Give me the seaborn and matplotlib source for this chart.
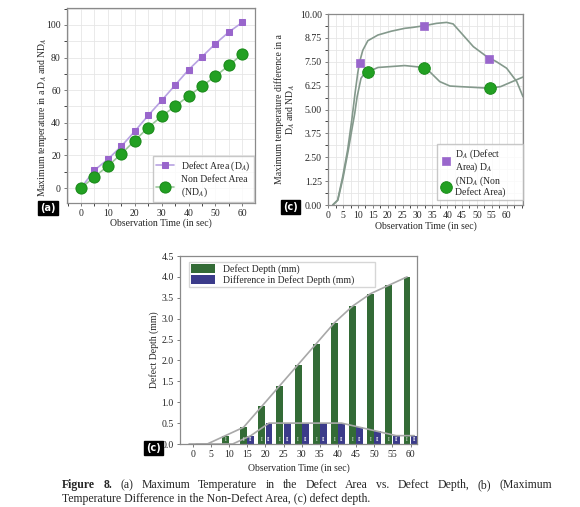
import numpy as np
import pandas as pd
import seaborn as sns
import matplotlib.pyplot as plt
from matplotlib.ticker import MultipleLocator, FixedLocator, FormatStrFormatter

# ---- data: panel (a) ----
time_a = [0, 5, 10, 15, 20, 25, 30, 35, 40, 45, 50, 55, 60]
defect_temp = [0, 10.9, 17.6, 25.6, 34.8, 44.5, 53.7, 63.1, 72.5, 80.5, 88.5, 95.7, 101.6]
non_defect_temp = [0, 6.8, 13.5, 20.9, 29.1, 37.1, 44.0, 50.2, 56.4, 62.5, 68.6, 75.2, 82.2]

# ---- data: panel (b) ----
da_curve_t = [1.5, 3.15, 4.84, 6.5, 7.9, 9.0, 9.9, 10.5, 11.6, 13.3, 16.7, 21.2, 25.7, 28.5,
              32.4, 36.4, 39.8, 42, 44.8, 48.8, 53.3, 56.6, 60, 63.4, 65.5]
da_curve_v = [0.0, 0.26, 1.48, 2.88, 4.45, 5.85, 6.9, 7.47, 8.1, 8.6, 8.9, 9.1, 9.25, 9.3,
              9.39, 9.51, 9.56, 9.48, 8.99, 8.29, 7.77, 7.5, 7.16, 6.46, 5.67]
nd_curve_t = [1.5, 3.2, 5.0, 6.7, 8.1, 8.9, 9.7, 11.0, 12.4, 13.5, 16.7, 25.7, 32.2, 34.1,
              37.5, 40.9, 44, 50, 54.4, 58, 61, 65.5]
nd_curve_v = [0.0, 0.25, 1.45, 2.85, 4.1, 4.8, 5.67, 6.63, 6.95, 6.98, 7.2, 7.3, 7.2, 6.98,
              6.46, 6.23, 6.2, 6.15, 6.11, 6.2, 6.4, 6.7]
da_mark_t = [10.5, 32.2, 54.2]
da_mark_v = [7.45, 9.39, 7.64]
nd_mark_t = [13.5, 32.2, 54.4]
nd_mark_v = [6.98, 7.19, 6.11]

# ---- data: panel (c) ----
time_c = ["0", "5", "10", "15", "20", "25", "30", "35", "40", "45", "50", "55", "60"]
depth = [0, 0, 0.2, 0.4, 0.9, 1.4, 1.9, 2.4, 2.9, 3.3, 3.6, 3.8, 4.0]
depth_diff = [0, 0, 0, 0.2, 0.5, 0.5, 0.5, 0.5, 0.5, 0.4, 0.3, 0.2, 0.2]

sns.set_style("ticks")
plt.rcParams["font.family"] = ["Liberation Serif", "DejaVu Serif"]
plt.rcParams["mathtext.fontset"] = "stix"
plt.rcParams["font.size"] = 7

fig = plt.figure(figsize=(5.8, 5.07), dpi=100)
W, H = 580, 507


def ax_box(l, t, r, b):
    return fig.add_axes([l / W, 1 - b / H, (r - l) / W, (b - t) / H])


def style_axes(ax, grid=True):
    for s in ax.spines.values():
        s.set_color("#8a8a8a")
        s.set_linewidth(0.9)
    ax.tick_params(labelsize=7, length=2.5, width=0.6, color="#666666", pad=2)
    if grid:
        ax.grid(True, which="both", color="#e6e6e6", linewidth=0.6)
        ax.set_axisbelow(True)


def tag(x, y, s):
    fig.text(x / W, 1 - y / H, s, color="white", fontsize=7, fontweight="bold",
             family="DejaVu Sans", ha="left", va="center",
             bbox=dict(boxstyle="square,pad=0.25", fc="black", ec="black"))


# ---- (a) ----
ax1 = ax_box(67, 8, 255, 203)
sns.lineplot(x=time_a, y=defect_temp, ax=ax1, color="#b8a2e2", marker="s", markersize=5,
             markerfacecolor="#9966cc", markeredgecolor="#9966cc", linewidth=1.2,
             label="Defect Area (D$_A$)")
sns.lineplot(x=time_a, y=non_defect_temp, ax=ax1, color="#9cc79c", marker="o", markersize=8,
             markerfacecolor="#22a022", markeredgecolor="#1a8a1a", linewidth=1.2,
             label="Non Defect Area\n(ND$_A$)")
ax1.set_xlim(-5.2, 64.7)
ax1.set_ylim(-9.2, 110.4)
ax1.xaxis.set_major_locator(MultipleLocator(10))
ax1.xaxis.set_minor_locator(MultipleLocator(5))
ax1.yaxis.set_major_locator(MultipleLocator(20))
ax1.yaxis.set_minor_locator(MultipleLocator(10))
style_axes(ax1)
ax1.set_xlabel("Observation Time (in sec)", fontsize=7, labelpad=0)
ax1.set_ylabel("Maximum temperature in a D$_A$ and ND$_A$", fontsize=7)
ax1.yaxis.set_label_coords(-0.095, 0.44)
leg = ax1.legend(loc="lower right", fontsize=7, frameon=True, fancybox=False,
                 borderaxespad=0.1, handlelength=1.8, labelspacing=0.2, borderpad=0.3)
leg.get_frame().set_edgecolor("#bbbbbb")
tag(40, 208, "(a)")

# ---- (b) ----
ax2 = ax_box(328, 14, 523, 205)
sns.lineplot(x=da_curve_t, y=da_curve_v, ax=ax2, color="#84998c", linewidth=1.2, sort=False)
sns.lineplot(x=nd_curve_t, y=nd_curve_v, ax=ax2, color="#84998c", linewidth=1.2, sort=False)
sns.scatterplot(x=da_mark_t, y=da_mark_v, ax=ax2, marker="s", s=36, color="#9966cc",
                edgecolor="#9966cc", label="D$_A$ (Defect\nArea) D$_A$", zorder=5)
sns.scatterplot(x=nd_mark_t, y=nd_mark_v, ax=ax2, marker="o", s=70, color="#22a022",
                edgecolor="#1a8a1a", label="(ND$_A$ (Non\nDefect Area)", zorder=5)
ax2.set_xlim(-0.1, 65.5)
ax2.set_ylim(0, 10)
ax2.xaxis.set_major_locator(FixedLocator(list(range(0, 61, 5))))
ax2.xaxis.set_minor_locator(MultipleLocator(2.5))
ax2.yaxis.set_major_locator(MultipleLocator(1.25))
ax2.yaxis.set_minor_locator(MultipleLocator(0.625))
ax2.yaxis.set_major_formatter(FormatStrFormatter("%.2f"))
style_axes(ax2)
ax2.set_xlabel("Observation Time (in sec)", fontsize=7, labelpad=1)
ax2.set_ylabel("Maximum temperature difference in a\nD$_A$ and ND$_A$", fontsize=7,
               labelpad=2, linespacing=1.0)
leg2 = ax2.legend(loc="lower left", bbox_to_anchor=(0.559, 0.026, 0.441, 0.2),
                  mode="expand", fontsize=7, frameon=True, fancybox=False,
                  borderaxespad=0, handlelength=1.2, labelspacing=0.05,
                  handletextpad=0.4, borderpad=0.3)
leg2.get_frame().set_edgecolor("#bbbbbb")
for t in leg2.get_texts():
    t.set_linespacing(0.95)
tag(283, 207, "(c)")

# ---- (c) ----
ax3 = ax_box(180, 256, 417, 444)
df_c = pd.DataFrame({
    "time": time_c * 2,
    "value": depth + depth_diff,
    "series": ["Defect Depth (mm)"] * len(time_c) + ["Difference in Defect Depth (mm)"] * len(time_c),
})
sns.barplot(data=df_c, x="time", y="value", hue="series", ax=ax3, width=0.8, gap=0.04,
            palette=["#336b36", "#3b3b8a"], saturation=1, edgecolor="none")
pos = np.arange(len(time_c))
ax3.plot(pos - 0.2, depth, color="#a8a8a8", linewidth=1.2, zorder=1)
ax3.plot(pos + 0.2, depth_diff, color="#a8a8a8", linewidth=1.2, zorder=1)
for cont, mark in zip(ax3.containers, ["I", "II"]):
    for p in cont:
        if p.get_height() > 0:
            ax3.text(p.get_x() + p.get_width() / 2, 0.05, mark, color="white", fontsize=4,
                     ha="center", va="bottom", zorder=4)
ax3.set_xlim(-0.7, 12.35)
ax3.set_ylim(0, 4.5)
ax3.yaxis.set_major_locator(MultipleLocator(0.5))
ax3.yaxis.set_major_formatter(FormatStrFormatter("%.1f"))
style_axes(ax3, grid=False)
ax3.set_xlabel("Observation Time (in sec)", fontsize=7, labelpad=3)
ax3.set_ylabel("Defect Depth (mm)", fontsize=7, labelpad=2)
leg3 = ax3.legend(loc="upper left", bbox_to_anchor=(0.038, 0.968, 0.785, 0.0),
                  mode="expand", fontsize=7, frameon=True, fancybox=False,
                  borderaxespad=0, handlelength=2.5, handleheight=1.0, labelspacing=0.1,
                  borderpad=0.2, title=None)
leg3.get_frame().set_edgecolor("#cccccc")
tag(146, 448, "(c)")

# ---- caption (first line justified) ----
renderer = fig.canvas.get_renderer()
line1 = [("Figure", "bold"), ("8.", "bold"), ("(a)", "normal"), ("Maximum", "normal"),
         ("Temperature", "normal"), ("in", "normal"), ("the", "normal"), ("Defect", "normal"),
         ("Area", "normal"), ("vs.", "normal"), ("Defect", "normal"), ("Depth,", "normal"),
         ("(b)", "normal"), ("(Maximum", "normal")]
x0, x1 = 62, 552
texts = [fig.text(0, 1 - 485 / H, w, fontsize=8.5, fontweight=fw, va="center")
         for w, fw in line1]
widths = [t.get_window_extent(renderer).width for t in texts]
gap = (x1 - x0 - sum(widths)) / (len(texts) - 1)
cx = x0
for t, wd in zip(texts, widths):
    t.set_x(cx / W)
    cx += wd + gap
fig.text(x0 / W, 1 - 499 / H,
         "Temperature Difference in the Non-Defect Area, (c) defect depth.",
         fontsize=8.5, va="center")

fig.savefig("out.png", dpi=100)
